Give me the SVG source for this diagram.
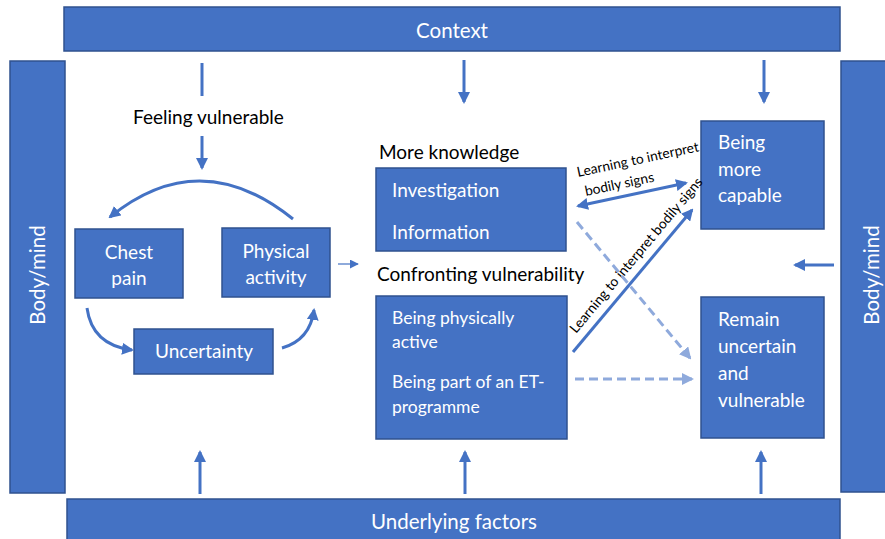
<svg xmlns="http://www.w3.org/2000/svg" width="885" height="539" viewBox="0 0 885 539">
  <style>
    .box { fill: #4472c4; stroke: #2f528f; stroke-width: 1.5; }
    .wt { fill: #ffffff; font-family: Lato, "Open Sans", "Liberation Sans", sans-serif; font-size: 19px; }
    .band { font-size: 20.5px; }
    .bt { fill: #000000; font-family: Lato, "Open Sans", "Liberation Sans", sans-serif; font-size: 19px; }
    .sm { fill: #000000; font-family: Lato, "Open Sans", "Liberation Sans", sans-serif; font-size: 13.8px; }
    .mid { text-anchor: middle; }
    .arr { fill: none; stroke: #4472c4; stroke-width: 3; }
    .thin { fill: none; stroke: #4472c4; stroke-width: 1.2; }
    .dash { fill: none; stroke: #8faadc; stroke-width: 3; stroke-dasharray: 9 5; }
  </style>
  <defs>
    <marker id="head" viewBox="0 0 12 12" refX="10" refY="6" markerWidth="12" markerHeight="12" markerUnits="userSpaceOnUse" orient="auto-start-reverse">
      <path d="M0,0 L12,6 L0,12 Z" fill="#4472c4"/>
    </marker>
    <marker id="headLight" viewBox="0 0 12 12" refX="10" refY="6" markerWidth="12" markerHeight="12" markerUnits="userSpaceOnUse" orient="auto">
      <path d="M0,0 L12,6 L0,12 Z" fill="#8faadc"/>
    </marker>
    <marker id="headSmall" viewBox="0 0 10 10" refX="9" refY="5" markerWidth="9" markerHeight="9" markerUnits="userSpaceOnUse" orient="auto">
      <path d="M0,0 L10,5 L0,10 Z" fill="#4472c4"/>
    </marker>
  </defs>

  <rect width="885" height="539" fill="#ffffff"/>

  <!-- frame bands -->
  <g id="context">
    <rect class="box" x="64" y="7" width="776" height="44"/>
    <text class="wt band mid" x="452" y="38">Context</text>
  </g>
  <g id="underlying-factors">
    <rect class="box" x="67" y="499" width="773" height="45"/>
    <text class="wt band mid" x="454" y="529">Underlying factors</text>
  </g>
  <g id="body-mind-left">
    <rect class="box" x="10" y="61" width="55" height="432"/>
    <text class="wt band mid" transform="translate(45,275) rotate(-90)">Body/mind</text>
  </g>
  <g id="body-mind-right">
    <rect class="box" x="841" y="61" width="55" height="431"/>
    <text class="wt band mid" transform="translate(879,275) rotate(-90)">Body/mind</text>
  </g>

  <!-- loop of experiences -->
  <g id="feeling-vulnerable">
    <text class="bt" x="133" y="124">Feeling vulnerable</text>
  </g>
  <g id="chest-pain">
    <rect class="box" x="75" y="229" width="108" height="69"/>
    <text class="wt mid" x="129" y="259">Chest</text>
    <text class="wt mid" x="129" y="285">pain</text>
  </g>
  <g id="physical-activity">
    <rect class="box" x="222" y="228" width="108" height="69"/>
    <text class="wt mid" x="276" y="258">Physical</text>
    <text class="wt mid" x="276" y="284">activity</text>
  </g>
  <g id="uncertainty">
    <rect class="box" x="134" y="329" width="139" height="45"/>
    <text class="wt mid" x="204" y="358">Uncertainty</text>
  </g>

  <!-- strategies -->
  <g id="more-knowledge">
    <text class="bt" x="379" y="159">More knowledge</text>
    <rect class="box" x="376" y="168" width="190" height="83"/>
    <text class="wt" x="392" y="197">Investigation</text>
    <text class="wt" x="392" y="239">Information</text>
  </g>
  <g id="confronting-vulnerability">
    <text class="bt" x="377" y="281">Confronting vulnerability</text>
    <rect class="box" x="376" y="296" width="191" height="143"/>
    <text class="wt" x="392" y="324" style="font-size:17.5px">Being physically</text>
    <text class="wt" x="392" y="348" style="font-size:17.5px">active</text>
    <text class="wt" x="392" y="388" style="font-size:17.5px">Being part of an ET-</text>
    <text class="wt" x="392" y="413" style="font-size:17.5px">programme</text>
  </g>

  <!-- outcomes -->
  <g id="more-capable">
    <rect class="box" x="701" y="121" width="123" height="108"/>
    <text class="wt" x="718" y="149">Being</text>
    <text class="wt" x="718" y="176">more</text>
    <text class="wt" x="718" y="202">capable</text>
  </g>
  <g id="remain-uncertain">
    <rect class="box" x="701" y="297" width="123" height="141"/>
    <text class="wt" x="718" y="326">Remain</text>
    <text class="wt" x="718" y="353">uncertain</text>
    <text class="wt" x="718" y="380">and</text>
    <text class="wt" x="718" y="407">vulnerable</text>
  </g>

  <!-- connectors -->
  <g id="connectors">
    <!-- from context -->
    <line class="arr" x1="202" y1="63" x2="202" y2="96"/>
    <line class="arr" x1="202" y1="136" x2="202" y2="168" marker-end="url(#head)"/>
    <line class="arr" x1="464" y1="60" x2="464" y2="102" marker-end="url(#head)"/>
    <line class="arr" x1="764" y1="60" x2="764" y2="102" marker-end="url(#head)"/>
    <!-- from underlying factors -->
    <line class="arr" x1="200" y1="494" x2="200" y2="452" marker-end="url(#head)"/>
    <line class="arr" x1="465" y1="494" x2="465" y2="452" marker-end="url(#head)"/>
    <line class="arr" x1="761" y1="494" x2="761" y2="452" marker-end="url(#head)"/>
    <!-- from body/mind -->
    <line class="arr" x1="834" y1="265" x2="795" y2="265" marker-end="url(#head)"/>

    <!-- experience loop -->
    <path class="arr" d="M293,219 Q200,144 110,217" marker-end="url(#head)"/>
    <path class="arr" d="M87,308 Q92,345 132,350" marker-end="url(#head)"/>
    <path class="arr" d="M282,348 Q310,340 314,310" marker-end="url(#head)"/>
    <line class="thin" x1="338" y1="264" x2="358" y2="264" marker-end="url(#headSmall)"/>

    <!-- learning to interpret bodily signs -->
    <line class="arr" x1="578" y1="206" x2="686" y2="183" marker-start="url(#head)" marker-end="url(#head)"/>
    <text class="sm" transform="translate(578,177) rotate(-12)">Learning to interpret</text>
    <text class="sm" transform="translate(586,196) rotate(-12)">bodily signs</text>
    <line class="arr" x1="573" y1="352" x2="692" y2="210" marker-end="url(#head)"/>
    <text class="sm" transform="translate(576,334) rotate(-50)">Learning to interpret bodily signs</text>

    <!-- dashed paths to remaining uncertain -->
    <line class="dash" x1="577" y1="222" x2="690" y2="358" marker-end="url(#headLight)"/>
    <line class="dash" x1="575" y1="379" x2="692" y2="379" marker-end="url(#headLight)"/>
  </g>
</svg>
